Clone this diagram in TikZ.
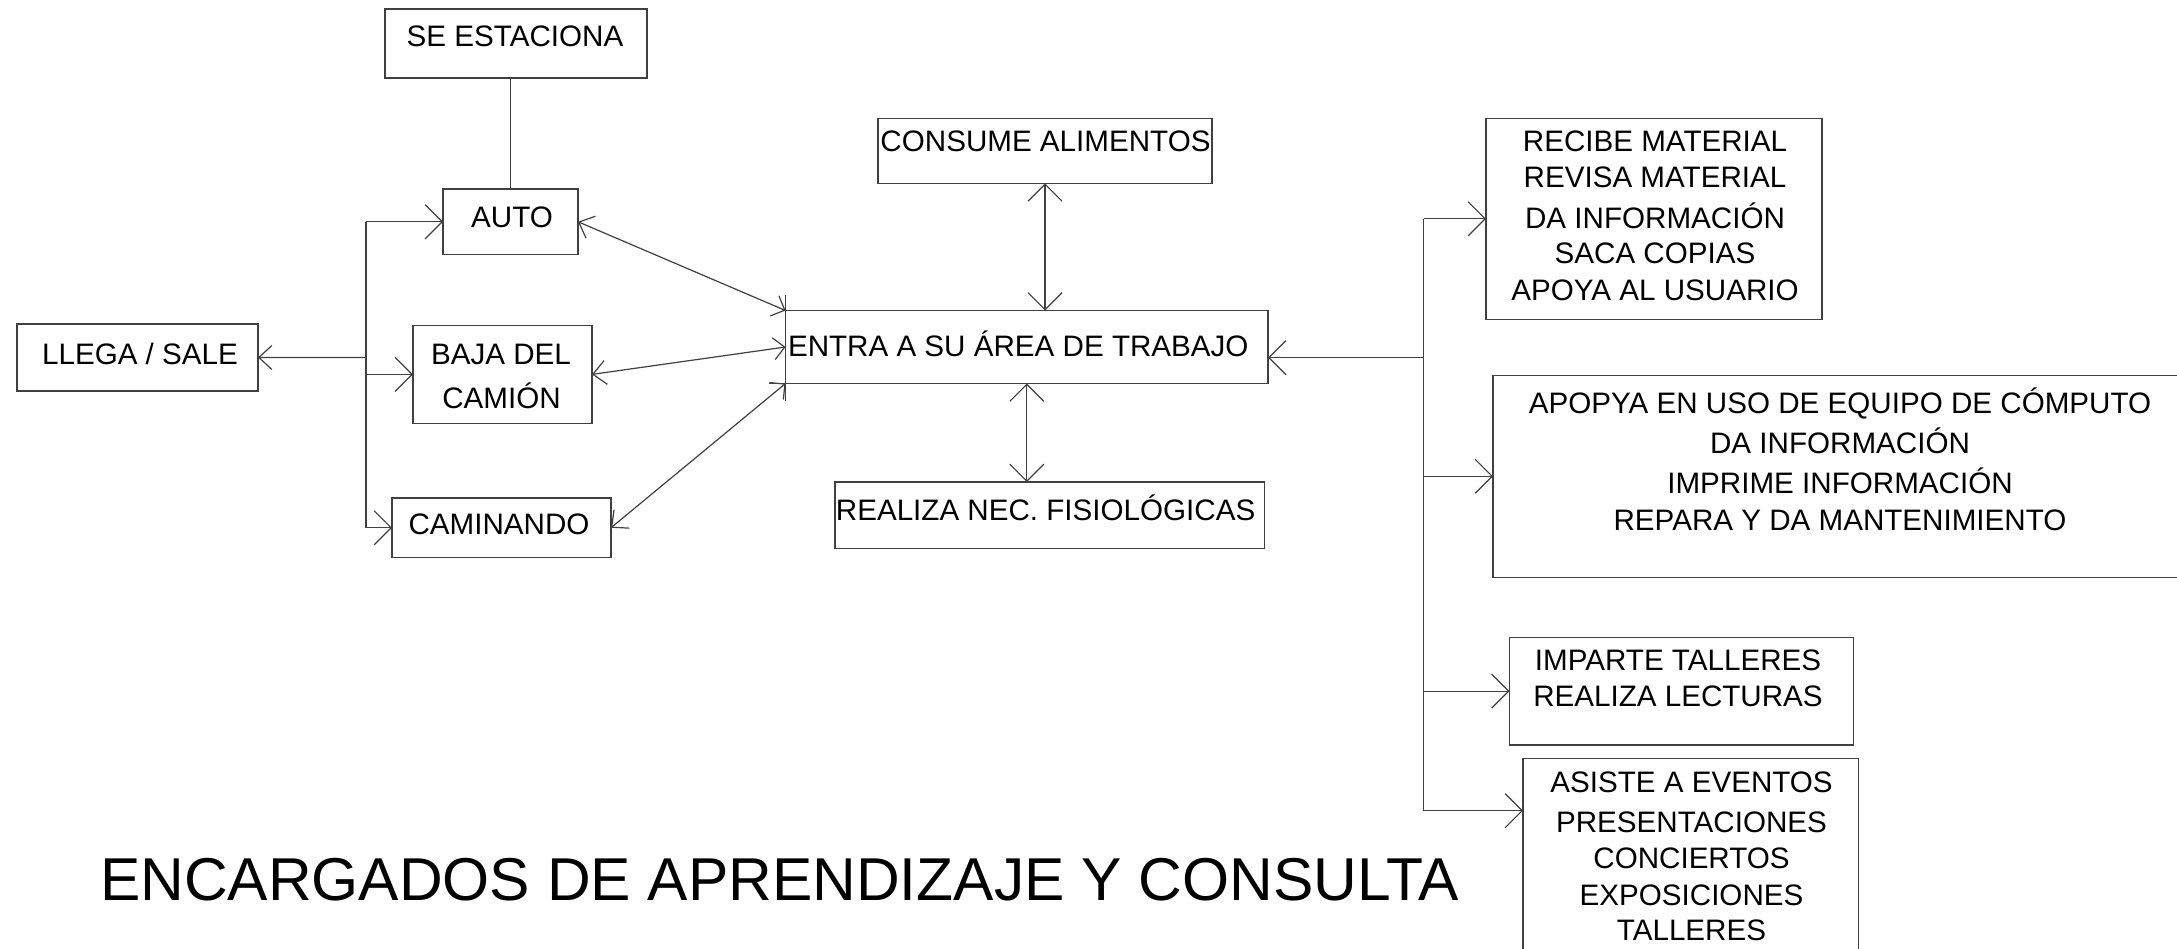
\documentclass[tikz,border=0pt]{standalone}
\usepackage{fontspec}
\setmainfont{Liberation Sans}
\usetikzlibrary{arrows.meta}
\definecolor{linec}{RGB}{64,64,64}
\tikzset{
  box/.style={draw=linec, line width=1.2pt, inner sep=0pt, outer sep=0pt},
  txt/.style={inner sep=0pt, outer sep=0pt, font=\fontsize{29.6}{36}\selectfont, anchor=base},
  ttl/.style={inner sep=0pt, outer sep=0pt, font=\fontsize{60.5}{72}\selectfont, anchor=base west},
  conn/.style={draw=linec, line width=1.2pt},
  hd/.tip={Straight Barb[length=17pt,width=34pt]},
  sm/.tip={Straight Barb[length=11pt,width=22pt]},
  mid/.tip={Straight Barb[length=13pt,width=24pt]},
}
\newcommand\boxat[5]{\node[box, anchor=north west, minimum width=#4pt, minimum height=#5pt] (#1) at (#2,#3) {};}
\begin{document}
\begin{tikzpicture}[x=1pt,y=-1pt]
\useasboundingbox (0,0) rectangle (2177,948);
\clip (0,0) rectangle (2177,948);
\fill[white] (0,0) rectangle (2177,948);
% boxes
\boxat{se}{385}{9}{262}{69}
\boxat{auto}{443}{189}{135}{65.5}
\boxat{llega}{17}{324}{241}{67}
\boxat{baja}{413}{325.6}{179}{97.6}
\boxat{camin}{392}{498}{219}{59.5}
\boxat{entra}{785.5}{310.5}{482.5}{73}
\boxat{consume}{878}{118.3}{334}{65}
\boxat{realiza}{835}{482}{429.4}{66.3}
\boxat{recibe}{1486}{118.3}{336}{201}
\boxat{apopya}{1493}{375.3}{700}{202}
\boxat{imparte}{1509.5}{637.3}{344}{107.7}
\boxat{asiste}{1523}{758.3}{335.4}{210}
% texts
\node[txt] (tse) at (515,46.7) {SE ESTACIONA};
\node[txt] (tauto) at (512,227.5) {AUTO};
\node[txt] (tllega) at (140,364.4) {LLEGA / SALE};
\node[txt] (tbaja1) at (501,364.4) {BAJA DEL};
\node[txt] (tbaja2) at (501.5,408.8) {CAMIÓN};
\node[txt] (tcamin) at (499,534.6) {CAMINANDO};
\node[txt, anchor=base west] (tentra) at (788,356.7) {ENTRA A SU ÁREA DE TRABAJO};
\node[txt] (tconsume) at (1045.5,151.7) {CONSUME ALIMENTOS};
\node[txt] (trealiza) at (1045.6,520.7) {REALIZA NEC. FISIOLÓGICAS};
\node[txt] (tr1) at (1655,151.7) {RECIBE MATERIAL};
\node[txt] (tr2) at (1655,187.3) {REVISA MATERIAL};
\node[txt] (tr3) at (1655,228.3) {DA INFORMACIÓN};
\node[txt] (tr4) at (1655,263.3) {SACA COPIAS};
\node[txt] (tr5) at (1655,300) {APOYA AL USUARIO};
\node[txt] (ta1) at (1840,413.3) {APOPYA EN USO DE EQUIPO DE CÓMPUTO};
\node[txt] (ta2) at (1840,453.3) {DA INFORMACIÓN};
\node[txt] (ta3) at (1840,493.3) {IMPRIME INFORMACIÓN};
\node[txt] (ta4) at (1840,530) {REPARA Y DA MANTENIMIENTO};
\node[txt] (ti1) at (1678,670.7) {IMPARTE TALLERES};
\node[txt] (ti2) at (1678,706) {REALIZA LECTURAS};
\node[txt] (te1) at (1691.5,792.3) {ASISTE A EVENTOS};
\node[txt] (te2) at (1691.5,832.3) {PRESENTACIONES};
\node[txt] (te3) at (1691.5,868.3) {CONCIERTOS};
\node[txt] (te4) at (1691.5,905) {EXPOSICIONES};
\node[txt] (te5) at (1691.5,940) {TALLERES};
\node[ttl] (title) at (100,900.7) {ENCARGADOS DE APRENDIZAJE Y CONSULTA};
% left connectors
\coordinate (lb) at (366,357.4);
\draw[conn] (lb |- auto.west) -- (lb |- camin.west);
\draw[conn,-hd] (lb |- auto.west) -- (auto.west);
\draw[conn,-mid] (lb) -- (llega.east);
\draw[conn,-hd] (lb |- baja.west) -- (baja.west);
\draw[conn,-hd] (lb |- camin.west) -- (camin.west);
\draw[conn] (auto.north) -- (auto.north |- se.south);
\draw[conn,sm-mid] (entra.north west) -- (auto.east);
\draw[conn,sm-mid] (entra.west) -- (baja.east);
\draw[conn,sm-mid] (entra.south west) -- (camin.east);
\draw[conn] ([yshift=16pt]entra.north west) -- ([yshift=-17pt]entra.south west);
\draw[conn] (entra.south west) -- ++(-17,0);
% vertical double arrows
\draw[conn,hd-hd] (consume.south) -- (consume.south |- entra.north);
\draw[conn,hd-hd] (entra.south) -- (entra.south |- realiza.north);
% right connectors
\coordinate (rb) at (1423.5,357.7);
\coordinate (rbot) at (1423.5,810.7);
\draw[conn,-hd] (rb) -- (rb -| entra.east);
\draw[conn] (rb |- recibe.west) -- (rbot);
\draw[conn,-hd] (rb |- recibe.west) -- (recibe.west);
\draw[conn,-hd] (rb |- apopya.west) -- (apopya.west);
\draw[conn,-hd] (rb |- imparte.west) -- (imparte.west);
\draw[conn,-hd] (rbot) -- (rbot -| asiste.west);
\end{tikzpicture}
\end{document}
